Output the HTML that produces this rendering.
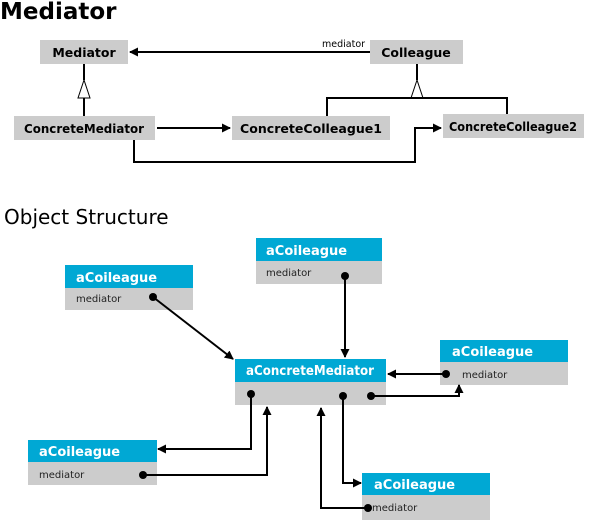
<!DOCTYPE html>
<html><head><style>
body{margin:0;background:#fff;}
svg{display:block;}
text{font-family:"DejaVu Sans","Liberation Sans",sans-serif;}
</style></head><body>
<svg width="600" height="520" xmlns="http://www.w3.org/2000/svg">
<defs>
<marker id="ah" markerWidth="9" markerHeight="9" refX="8" refY="4.5" orient="auto" markerUnits="userSpaceOnUse">
<path d="M0,0 L9,4.5 L0,9 Z" fill="#000"/>
</marker>
</defs>
<text x="0" y="19" font-size="23" font-weight="bold">Mediator</text>
<g fill="#cccccc">
<rect x="40" y="40" width="88" height="24"/>
<rect x="370" y="40" width="93" height="24"/>
<rect x="14" y="116" width="141" height="24"/>
<rect x="232" y="116" width="158" height="24"/>
<rect x="443" y="114" width="141" height="24"/>
</g>
<g font-size="12.5" font-weight="bold" text-anchor="middle">
<text x="84" y="57">Mediator</text>
<text x="416" y="57">Colleague</text>
<text x="84" y="133" textLength="120" lengthAdjust="spacingAndGlyphs">ConcreteMediator</text>
<text x="311" y="133" textLength="142" lengthAdjust="spacingAndGlyphs">ConcreteColleague1</text>
<text x="513" y="131" textLength="128" lengthAdjust="spacingAndGlyphs">ConcreteColleague2</text>
</g>
<text x="322" y="47" font-size="9.5">mediator</text>
<g stroke="#000" stroke-width="2" fill="none">
<line x1="370" y1="52" x2="130" y2="52" marker-end="url(#ah)"/>
<line x1="84" y1="64" x2="84" y2="80"/>
<line x1="84" y1="98" x2="84" y2="116"/>
<path d="M84,80 L78,98 L90,98 Z" fill="#fff" stroke-width="1"/>
<line x1="417" y1="64" x2="417" y2="80"/>
<path d="M417,80 L411,98 L423,98 Z" fill="#fff" stroke-width="1"/>
<path d="M327,116 V98 H507 V114"/>
<line x1="157" y1="128" x2="230" y2="128" marker-end="url(#ah)"/>
<path d="M134,140 V162 H415 V128 H441" marker-end="url(#ah)"/>
</g>
<text x="4" y="224" font-size="20">Object Structure</text>
<g>
<rect x="65" y="265" width="128" height="23" fill="#00a8d4"/><rect x="65" y="288" width="128" height="22" fill="#cccccc"/>
<rect x="256" y="238" width="126" height="23" fill="#00a8d4"/><rect x="256" y="261" width="126" height="23" fill="#cccccc"/>
<rect x="440" y="340" width="128" height="22" fill="#00a8d4"/><rect x="440" y="362" width="128" height="23" fill="#cccccc"/>
<rect x="235" y="359" width="151" height="23" fill="#00a8d4"/><rect x="235" y="382" width="151" height="23" fill="#cccccc"/>
<rect x="28" y="440" width="129" height="22" fill="#00a8d4"/><rect x="28" y="462" width="129" height="23" fill="#cccccc"/>
<rect x="362" y="473" width="128" height="22" fill="#00a8d4"/><rect x="362" y="495" width="128" height="25" fill="#cccccc"/>
</g>
<g font-size="13" font-weight="bold" fill="#fff">
<text x="76" y="282">aCoileague</text>
<text x="266" y="255">aCoileague</text>
<text x="452" y="356">aCoileague</text>
<text x="246" y="375" textLength="128" lengthAdjust="spacingAndGlyphs">aConcreteMediator</text>
<text x="39" y="456">aCoileague</text>
<text x="374" y="489">aCoileague</text>
</g>
<g font-size="10" fill="#222">
<text x="76" y="302">mediator</text>
<text x="266" y="276">mediator</text>
<text x="462" y="378">mediator</text>
<text x="39" y="478">mediator</text>
<text x="372" y="511">mediator</text>
</g>
<g stroke="#000" stroke-width="2" fill="none">
<line x1="153" y1="297" x2="233" y2="359" marker-end="url(#ah)"/>
<line x1="345" y1="276" x2="345" y2="357" marker-end="url(#ah)"/>
<line x1="446" y1="374" x2="388" y2="374" marker-end="url(#ah)"/>
<path d="M371,396 H459 V385" marker-end="url(#ah)"/>
<path d="M251,394 V449 H158" marker-end="url(#ah)"/>
<path d="M143,475 H267 V407" marker-end="url(#ah)"/>
<path d="M343,396 V483 H361" marker-end="url(#ah)"/>
<path d="M368,508 H321 V408" marker-end="url(#ah)"/>
</g>
<g fill="#000">
<circle cx="153" cy="297" r="4"/><circle cx="345" cy="276" r="4"/><circle cx="446" cy="374" r="4"/>
<circle cx="371" cy="396" r="4"/><circle cx="251" cy="394" r="4"/><circle cx="343" cy="396" r="4"/>
<circle cx="143" cy="475" r="4"/><circle cx="368" cy="508" r="4"/>
</g>
</svg>
</body></html>
